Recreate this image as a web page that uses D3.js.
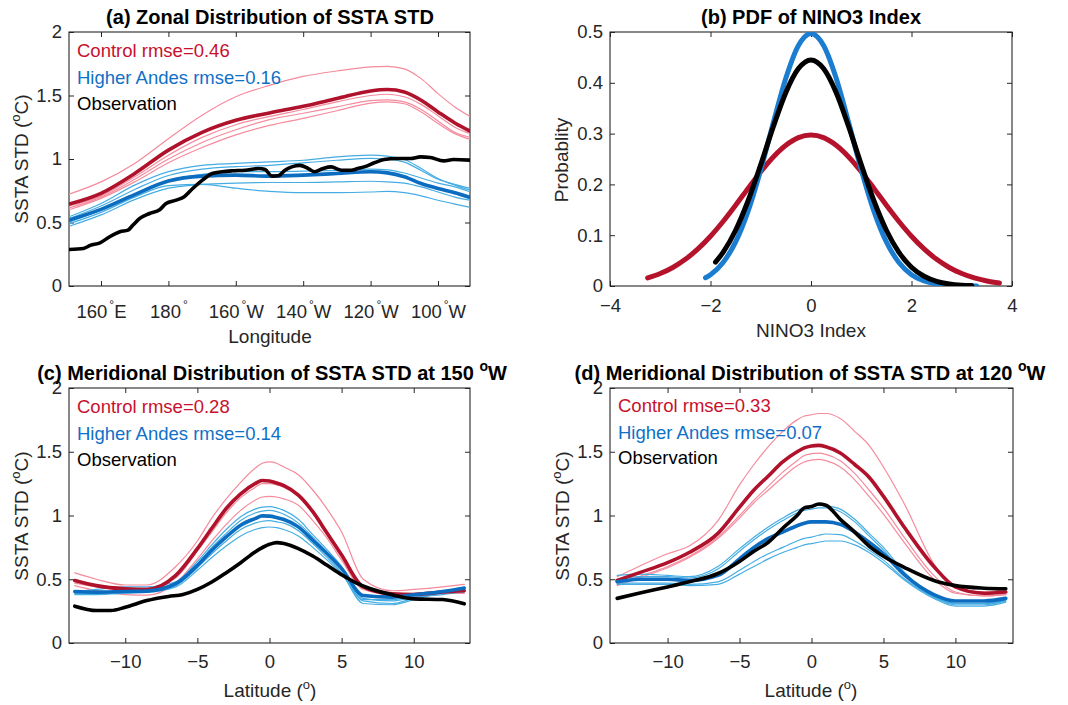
<!DOCTYPE html>
<html>
<head>
<meta charset="utf-8">
<script src="https://cdn.jsdelivr.net/npm/d3@7"></script>
<style>
  html, body { margin: 0; padding: 0; background: #fff; }
  svg { display: block; }
  text { font-family: "Liberation Sans", Arial, Helvetica, sans-serif; }
</style>
</head>
<body>
<script>
// ---------------- (a) zonal distribution along the equator ----------------
const lonA = [150.5, 160, 170, 180, 190, 200, 210, 220, 230, 240, 245, 250, 255, 260, 265, 269.5];
const ctrlMeanA = [0.645, 0.73, 0.886, 1.07, 1.21, 1.305, 1.363, 1.415, 1.476, 1.536, 1.547, 1.528, 1.463, 1.371, 1.284, 1.22];
const ctrlRunsA = [
  [0.723, 0.82, 0.965, 1.16, 1.345, 1.49, 1.58, 1.65, 1.693, 1.725, 1.73, 1.71, 1.633, 1.515, 1.41, 1.335],
  [0.63, 0.71, 0.86, 1.03, 1.17, 1.27, 1.335, 1.39, 1.45, 1.5, 1.51, 1.49, 1.43, 1.34, 1.25, 1.2],
  [0.615, 0.7, 0.84, 1.0, 1.13, 1.23, 1.31, 1.36, 1.41, 1.46, 1.465, 1.45, 1.39, 1.3, 1.21, 1.17],
  [0.6, 0.69, 0.82, 0.97, 1.09, 1.19, 1.265, 1.32, 1.38, 1.44, 1.45, 1.435, 1.37, 1.28, 1.2, 1.155]
];
const andesMeanA = [0.519, 0.603, 0.72, 0.826, 0.865, 0.873, 0.865, 0.873, 0.886, 0.9, 0.891, 0.86, 0.807, 0.768, 0.734, 0.697];
const andesRunsA = [
  [0.545, 0.65, 0.794, 0.9, 0.95, 0.965, 0.978, 0.99, 1.017, 1.03, 1.022, 0.996, 0.925, 0.847, 0.794, 0.755],
  [0.53, 0.63, 0.76, 0.87, 0.92, 0.94, 0.95, 0.97, 0.99, 1.005, 1.0, 0.975, 0.91, 0.84, 0.8, 0.768],
  [0.5, 0.6, 0.72, 0.83, 0.88, 0.9, 0.9, 0.905, 0.91, 0.92, 0.915, 0.89, 0.85, 0.81, 0.78, 0.742],
  [0.47, 0.56, 0.68, 0.77, 0.8, 0.81, 0.815, 0.815, 0.82, 0.825, 0.82, 0.81, 0.78, 0.74, 0.7, 0.676],
  [0.49, 0.58, 0.7, 0.79, 0.8, 0.77, 0.745, 0.735, 0.735, 0.74, 0.745, 0.735, 0.71, 0.675, 0.645, 0.62]
];
const obsLonA = [150.6, 154.8, 156.8, 159.7, 162.6, 165.6, 168.0, 169.5, 171.5, 174.4, 177.4, 179.3, 182.3, 184.7,
  187.2, 190.1, 193.0, 196.0, 198.9, 202.8, 206.8, 208.7, 210.7, 212.6, 214.6, 216.6, 219.0, 221.5, 223.4, 225.9,
  228.3, 231.3, 234.2, 236.2, 238.1, 241.1, 244.0, 247.9, 251.9, 254.8, 257.7, 261.7, 264.6, 269.4];
const obsA = [0.288, 0.296, 0.32, 0.34, 0.388, 0.427, 0.44, 0.48, 0.532, 0.571, 0.6, 0.65, 0.676, 0.703,
  0.768, 0.834, 0.886, 0.9, 0.907, 0.912, 0.925, 0.917, 0.865, 0.868, 0.912, 0.938, 0.95, 0.925, 0.9, 0.925,
  0.938, 0.912, 0.912, 0.925, 0.938, 0.97, 0.996, 1.004, 1.004, 1.017, 1.012, 0.985, 0.996, 0.991];
const lonTicks = [160, 180, 200, 220, 240, 260];
const lonTickNums = ["160", "180", "160", "140", "120", "100"];
const lonTickHemi = ["E", "", "W", "W", "W", "W"];

// ---------------- (b) PDF of the NINO3 index ----------------
const ninoCtrl = [-3.25, -3, -2.75, -2.5, -2.25, -2, -1.75, -1.5, -1.25, -1, -0.75, -0.5, -0.25, 0,
  0.25, 0.5, 0.75, 1, 1.25, 1.5, 1.75, 2, 2.25, 2.5, 2.75, 3, 3.25, 3.5, 3.75];
const pdfCtrl = [0.0159, 0.0245, 0.0365, 0.0525, 0.073, 0.098, 0.127, 0.159, 0.1926, 0.225, 0.254, 0.277, 0.292, 0.297,
  0.292, 0.277, 0.254, 0.225, 0.1926, 0.159, 0.127, 0.098, 0.073, 0.0525, 0.0365, 0.0245, 0.0159, 0.0099, 0.006];
const ninoAndes = [-2.1, -2, -1.75, -1.5, -1.25, -1, -0.75, -0.5, -0.25, 0, 0.25, 0.5, 0.75, 1, 1.25, 1.5,
  1.75, 2, 2.25, 2.5, 2.75, 3, 3.3];
const pdfAndes = [0.0163, 0.0223, 0.0462, 0.0868, 0.148, 0.2289, 0.3213, 0.4094, 0.4735, 0.497, 0.4735, 0.4094,
  0.3213, 0.2289, 0.148, 0.0868, 0.0462, 0.0223, 0.0098, 0.0039, 0.0014, 0.0005, 0.0001];
const ninoObs = [-1.9, -1.75, -1.5, -1.25, -1, -0.75, -0.5, -0.25, 0, 0.25, 0.5, 0.75, 1, 1.25, 1.5, 1.75,
  2, 2.25, 2.5, 2.75, 3, 3.2];
const pdfObs = [0.0471, 0.0662, 0.1097, 0.1683, 0.2389, 0.3136, 0.381, 0.428, 0.445, 0.428, 0.381, 0.3136,
  0.2389, 0.1683, 0.1097, 0.0662, 0.037, 0.0191, 0.0091, 0.004, 0.0016, 0.0008];

// ---------------- (c) meridional section at 150W ----------------
const latGrid = [-13.5, -12, -10, -8.5, -6.5, -5, -4, -3, -2, -1, -0.5, 0, 0.5, 1, 2, 3, 4, 5, 6.5, 8.5, 10, 12, 13.5];
const ctrlMeanC = [0.49, 0.45, 0.425, 0.42, 0.53, 0.74, 0.9, 1.055, 1.17, 1.25, 1.275, 1.27, 1.255, 1.235, 1.16, 1.03, 0.86, 0.69, 0.44, 0.385, 0.38, 0.4, 0.41];
const ctrlRunsC = [
  [0.55, 0.5, 0.455, 0.455, 0.6, 0.8, 0.98, 1.13, 1.26, 1.37, 1.41, 1.42, 1.41, 1.38, 1.32, 1.2, 1.05, 0.87, 0.5, 0.41, 0.42, 0.44, 0.46],
  [0.47, 0.44, 0.42, 0.43, 0.51, 0.72, 0.87, 1.02, 1.14, 1.22, 1.25, 1.25, 1.24, 1.22, 1.15, 1.02, 0.85, 0.68, 0.45, 0.37, 0.38, 0.39, 0.39],
  [0.45, 0.41, 0.38, 0.375, 0.47, 0.66, 0.8, 0.93, 1.04, 1.12, 1.145, 1.15, 1.145, 1.13, 1.08, 0.96, 0.82, 0.65, 0.42, 0.38, 0.39, 0.4, 0.4]
];
const andesMeanC = [0.404, 0.399, 0.404, 0.407, 0.465, 0.609, 0.727, 0.832, 0.924, 0.976, 0.997, 0.995, 0.984, 0.969, 0.911, 0.806, 0.7, 0.583, 0.373, 0.36, 0.378, 0.404, 0.43];
const andesRunsC = [
  [0.4, 0.42, 0.44, 0.44, 0.48, 0.64, 0.77, 0.89, 0.99, 1.05, 1.065, 1.07, 1.06, 1.04, 0.97, 0.85, 0.73, 0.6, 0.35, 0.33, 0.36, 0.38, 0.4],
  [0.39, 0.4, 0.41, 0.42, 0.47, 0.62, 0.75, 0.86, 0.96, 1.02, 1.035, 1.04, 1.03, 1.01, 0.94, 0.83, 0.71, 0.58, 0.33, 0.31, 0.35, 0.39, 0.42],
  [0.38, 0.38, 0.39, 0.4, 0.45, 0.59, 0.7, 0.8, 0.89, 0.94, 0.955, 0.96, 0.95, 0.94, 0.88, 0.78, 0.67, 0.55, 0.31, 0.3, 0.34, 0.4, 0.44],
  [0.39, 0.39, 0.4, 0.4, 0.44, 0.57, 0.67, 0.76, 0.84, 0.89, 0.905, 0.91, 0.905, 0.89, 0.84, 0.75, 0.65, 0.54, 0.34, 0.34, 0.37, 0.41, 0.42]
];
const obsLatC = [-13.5, -12, -11, -10, -8.5, -7, -6, -5, -4, -3, -2, -1, 0, 0.5, 1, 2, 3, 4, 5, 6, 7, 8.5, 10, 12, 13.5];
const obsC = [0.289, 0.255, 0.255, 0.28, 0.333, 0.365, 0.38, 0.42, 0.478, 0.551, 0.63, 0.714, 0.774, 0.787, 0.78,
  0.74, 0.682, 0.609, 0.535, 0.472, 0.425, 0.378, 0.346, 0.341, 0.307];

// ---------------- (d) meridional section at 120W ----------------
const ctrlMeanD = [0.49, 0.55, 0.63, 0.71, 0.86, 1.065, 1.2, 1.31, 1.42, 1.5, 1.53, 1.545, 1.55, 1.54, 1.49, 1.4, 1.3, 1.15, 0.9, 0.6, 0.44, 0.39, 0.4];
const ctrlRunsD = [
  [0.52, 0.6, 0.7, 0.76, 0.96, 1.24, 1.4, 1.54, 1.66, 1.75, 1.78, 1.79, 1.8, 1.8, 1.76, 1.66, 1.55, 1.38, 1.08, 0.62, 0.43, 0.4, 0.42],
  [0.46, 0.52, 0.6, 0.68, 0.83, 1.0, 1.12, 1.23, 1.34, 1.43, 1.47, 1.485, 1.49, 1.48, 1.43, 1.33, 1.2, 1.06, 0.82, 0.53, 0.4, 0.37, 0.38],
  [0.45, 0.51, 0.59, 0.67, 0.82, 0.98, 1.1, 1.2, 1.3, 1.39, 1.42, 1.435, 1.44, 1.43, 1.38, 1.28, 1.15, 1.01, 0.78, 0.5, 0.39, 0.37, 0.38]
];
const andesMeanD = [0.48, 0.5, 0.5, 0.49, 0.53, 0.66, 0.75, 0.82, 0.87, 0.92, 0.94, 0.95, 0.95, 0.95, 0.93, 0.87, 0.79, 0.7, 0.53, 0.38, 0.33, 0.33, 0.35];
const andesRunsD = [
  [0.53, 0.54, 0.53, 0.52, 0.6, 0.74, 0.83, 0.91, 0.98, 1.04, 1.06, 1.07, 1.08, 1.075, 1.05, 0.97, 0.86, 0.75, 0.55, 0.37, 0.31, 0.31, 0.33],
  [0.5, 0.52, 0.52, 0.51, 0.58, 0.72, 0.81, 0.89, 0.96, 1.02, 1.04, 1.05, 1.06, 1.06, 1.03, 0.95, 0.84, 0.73, 0.53, 0.36, 0.31, 0.31, 0.34],
  [0.47, 0.47, 0.47, 0.46, 0.48, 0.57, 0.64, 0.7, 0.75, 0.8, 0.82, 0.83, 0.845, 0.855, 0.85, 0.8, 0.73, 0.65, 0.5, 0.36, 0.3, 0.3, 0.33],
  [0.46, 0.46, 0.46, 0.45, 0.46, 0.54, 0.6, 0.66, 0.71, 0.75, 0.77, 0.78, 0.79, 0.8, 0.8, 0.77, 0.71, 0.63, 0.49, 0.35, 0.29, 0.29, 0.32]
];
const obsD = [0.35, 0.39, 0.44, 0.48, 0.545, 0.64, 0.72, 0.79, 0.9, 1.0, 1.06, 1.07, 1.09, 1.08, 0.97, 0.87, 0.76, 0.68, 0.59, 0.49, 0.45, 0.43, 0.425];

// ---------------- shared tick values and legend text ----------------
const stdTicks = [0, 0.5, 1, 1.5, 2];
const probTicks = [0, 0.1, 0.2, 0.3, 0.4, 0.5];
const ninoTicks = [-4, -2, 0, 2, 4];
const latTicks = [-10, -5, 0, 5, 10];
const legendA = ["Control rmse=0.46", "Higher Andes rmse=0.16", "Observation"];
const legendC = ["Control rmse=0.28", "Higher Andes rmse=0.14", "Observation"];
const legendD = ["Control rmse=0.33", "Higher Andes rmse=0.07", "Observation"];

// ---------------- styling ----------------
const INK = "#262626";
const RED_THICK = "#b0112b";
const RED_THIN = "#f58b9d";
const BLUE_THICK = "#0b6cc0";
const BLUE_THIN = "#45ade3";
const RED_TEXT = "#c8102e";
const BLUE_TEXT = "#0f70c8";
const TICK_FONT = 18.5;

const svg = d3.select("body").append("svg").attr("width", 1068).attr("height", 705);
svg.append("rect").attr("width", 1068).attr("height", 705).attr("fill", "#fff");

let clipCount = 0;

// Build one boxed axes: frame, inward ticks on all four sides, tick labels.
function makeAxes(box, xDomain, yDomain, xTickVals, yTickVals, opts) {
  const x = d3.scaleLinear().domain(xDomain).range([box.l, box.r]);
  const y = d3.scaleLinear().domain(yDomain).range([box.b, box.t]);
  const g = svg.append("g");

  const bottom = d3.axisBottom(x).tickValues(xTickVals).tickSizeInner(-5).tickSizeOuter(0)
    .tickPadding(opts.xPad).tickFormat(opts.xFmt || d3.format("d"));
  const top = d3.axisTop(x).tickValues(xTickVals).tickSizeInner(-5).tickSizeOuter(0).tickFormat("");
  const left = d3.axisLeft(y).tickValues(yTickVals).tickSizeInner(-5).tickSizeOuter(0)
    .tickPadding(7).tickFormat(opts.yFmt);
  const right = d3.axisRight(y).tickValues(yTickVals).tickSizeInner(-5).tickSizeOuter(0).tickFormat("");

  const gb = g.append("g").attr("transform", `translate(0,${box.b})`).call(bottom);
  g.append("g").attr("transform", `translate(0,${box.t})`).call(top);
  const gl = g.append("g").attr("transform", `translate(${box.l},0)`).call(left);
  g.append("g").attr("transform", `translate(${box.r},0)`).call(right);

  g.selectAll(".domain").remove();
  g.selectAll(".tick line").attr("stroke", INK).attr("stroke-width", 1);
  g.selectAll(".tick text").attr("fill", INK).attr("font-size", TICK_FONT)
    .attr("font-family", '"Liberation Sans", Arial, sans-serif');

  g.append("rect").attr("x", box.l).attr("y", box.t)
    .attr("width", box.r - box.l).attr("height", box.b - box.t)
    .attr("fill", "none").attr("stroke", INK).attr("stroke-width", 1.1);

  const id = "clip" + (clipCount++);
  svg.append("clipPath").attr("id", id).append("rect")
    .attr("x", box.l).attr("y", box.t).attr("width", box.r - box.l).attr("height", box.b - box.t);
  const plot = svg.append("g").attr("clip-path", `url(#${id})`);

  return { x, y, g, gb, gl, plot };
}

function drawLine(ax, xs, ys, color, width) {
  const pts = xs.map((v, i) => [v, ys[i]]);
  const line = d3.line().x(d => ax.x(d[0])).y(d => ax.y(d[1])).curve(d3.curveMonotoneX);
  ax.plot.append("path").datum(pts).attr("d", line)
    .attr("fill", "none").attr("stroke", color).attr("stroke-width", width)
    .attr("stroke-linejoin", "round").attr("stroke-linecap", "round");
}

// Ensemble panel: thin member runs, thick ensemble means, observation on top.
function ensemble(ax, xs, ctrlRuns, ctrlMean, andesRuns, andesMean, obsX, obsY) {
  ctrlRuns.forEach(r => drawLine(ax, xs, r, RED_THIN, 1.2));
  andesRuns.forEach(r => drawLine(ax, xs, r, BLUE_THIN, 1.2));
  drawLine(ax, xs, ctrlMean, RED_THICK, 3.6);
  drawLine(ax, xs, andesMean, BLUE_THICK, 3.6);
  drawLine(ax, obsX, obsY, "#000", 3.6);
}

function legend(x0, baselines, labels) {
  const colors = [RED_TEXT, BLUE_TEXT, "#000"];
  labels.forEach((t, i) => {
    svg.append("text").attr("x", x0).attr("y", baselines[i]).attr("font-size", 18.5)
      .attr("fill", colors[i]).text(t);
  });
}

function title(cx, baseline, parts) {
  const t = svg.append("text").attr("x", cx).attr("y", baseline).attr("text-anchor", "middle")
    .attr("font-size", 20).attr("font-weight", "bold").attr("fill", "#000");
  parts.forEach(p => {
    if (p.sup) {
      t.append("tspan").attr("dy", -9).attr("font-size", 14).text(p.sup);
      t.append("tspan").attr("dy", 9).text(p.after || "");
    } else {
      t.append("tspan").text(p.text);
    }
  });
}

function yLabel(xBase, cy, main, sup, after) {
  const t = svg.append("text").attr("transform", `translate(${xBase},${cy}) rotate(-90)`)
    .attr("text-anchor", "middle").attr("font-size", 19).attr("fill", INK);
  t.append("tspan").text(main);
  if (sup) {
    t.append("tspan").attr("dy", -8).attr("font-size", 13).text(sup);
    t.append("tspan").attr("dy", 8).text(after);
  }
}

function xLabel(cx, baseline, main, sup, after) {
  const t = svg.append("text").attr("x", cx).attr("y", baseline)
    .attr("text-anchor", "middle").attr("font-size", 19).attr("fill", INK);
  t.append("tspan").text(main);
  if (sup) {
    t.append("tspan").attr("dy", -8).attr("font-size", 13).text(sup);
    t.append("tspan").attr("dy", 8).text(after);
  }
}

const fmtStd = d => (d === 0 ? "0" : d === 1 ? "1" : d === 2 ? "2" : d3.format(".1f")(d));
const fmtProb = d => (d === 0 ? "0" : d3.format(".1f")(d));

// ---- (a)
const axA = makeAxes({ l: 69, r: 470, t: 32, b: 286 }, [150.5, 269.5], [0, 2], lonTicks, stdTicks,
  { xPad: 19, yFmt: fmtStd, xFmt: () => "" });
axA.gb.selectAll(".tick text").each(function (d, i) {
  const t = d3.select(this).text("");
  t.append("tspan").text(lonTickNums[i]);
  t.append("tspan").attr("dx", 2).attr("dy", -9).attr("font-size", 12).text("°");
  t.append("tspan").attr("dy", 9).text(lonTickHemi[i]);
});
ensemble(axA, lonA, ctrlRunsA, ctrlMeanA, andesRunsA, andesMeanA, obsLonA, obsA);
legend(77, [57, 83.5, 110], legendA);
title(270, 24, [{ text: "(a) Zonal Distribution of SSTA STD" }]);
yLabel(28, 159, "SSTA STD (", "o", "C)");
xLabel(270, 343, "Longitude");

// ---- (b)
const axB = makeAxes({ l: 610, r: 1012, t: 32, b: 286 }, [-4, 4], [0, 0.5], ninoTicks, probTicks,
  { xPad: 13, yFmt: fmtProb, xFmt: d3.format("d") });
drawLine(axB, ninoCtrl, pdfCtrl, "#b5122c", 5);
drawLine(axB, ninoAndes, pdfAndes, "#1a7dd0", 5);
drawLine(axB, ninoObs, pdfObs, "#000", 5);
title(811, 24, [{ text: "(b) PDF of NINO3 Index" }]);
yLabel(568, 160, "Probablity");
xLabel(811, 337, "NINO3 Index");

// ---- (c)
const axC = makeAxes({ l: 69, r: 470, t: 388, b: 643 }, [-13.9, 13.9], [0, 2], latTicks, stdTicks,
  { xPad: 12, yFmt: fmtStd, xFmt: d3.format("d") });
ensemble(axC, latGrid, ctrlRunsC, ctrlMeanC, andesRunsC, andesMeanC, obsLatC, obsC);
legend(77, [413, 439.5, 466], legendC);
title(272, 380, [{ text: "(c) Meridional Distribution of SSTA STD at 150 " }, { sup: "o", after: "W" }]);
yLabel(28, 516, "SSTA STD (", "o", "C)");
xLabel(270, 697, "Latitude (", "o", ")");

// ---- (d)
const axD = makeAxes({ l: 610, r: 1013, t: 388, b: 643 }, [-14, 14], [0, 2], latTicks, stdTicks,
  { xPad: 12, yFmt: fmtStd, xFmt: d3.format("d") });
ensemble(axD, latGrid, ctrlRunsD, ctrlMeanD, andesRunsD, andesMeanD, latGrid, obsD);
legend(618, [412, 438.5, 464], legendD);
title(810, 380, [{ text: "(d) Meridional Distribution of SSTA STD at 120 " }, { sup: "o", after: "W" }]);
yLabel(569, 516, "SSTA STD (", "o", "C)");
xLabel(811, 697, "Latitude (", "o", ")");
</script>
</body>
</html>
